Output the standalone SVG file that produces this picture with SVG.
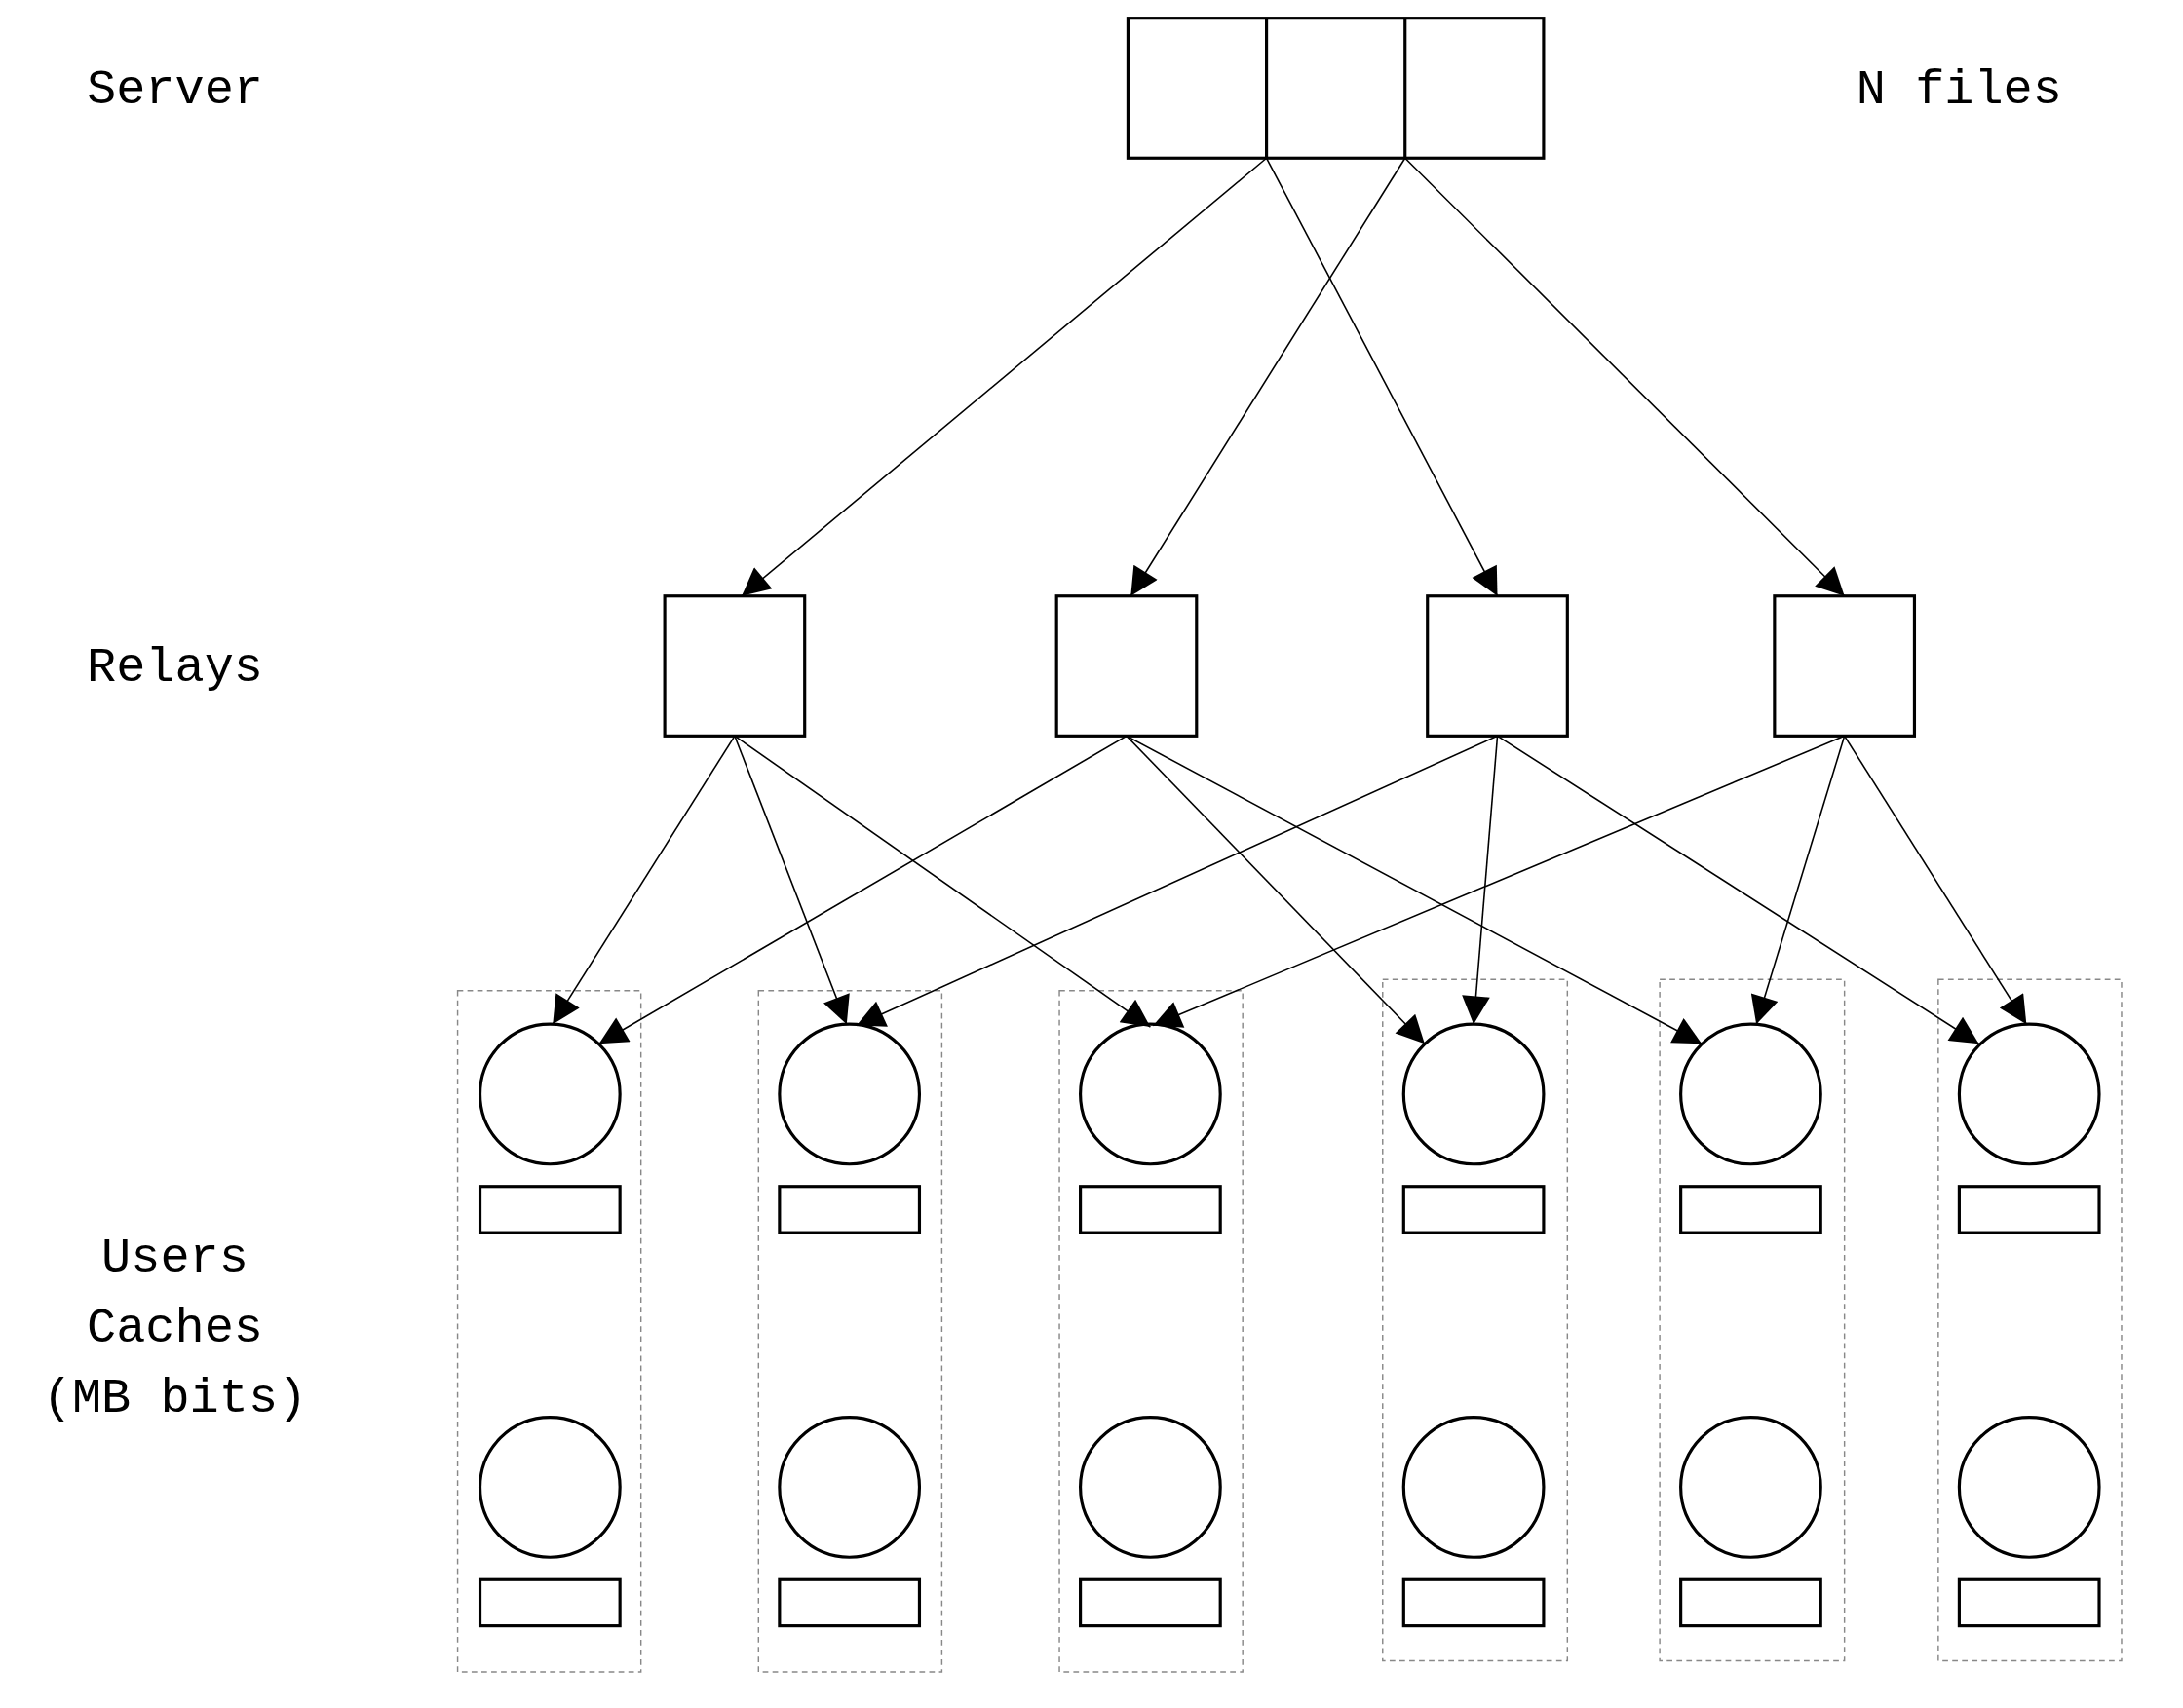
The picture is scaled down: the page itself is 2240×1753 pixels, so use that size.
<svg xmlns="http://www.w3.org/2000/svg" width="2240" height="1753" viewBox="0 0 2240 1753">
<style>
.s{fill:none;stroke:#000;stroke-width:2.2}
.d{fill:none;stroke:#888;stroke-width:1;stroke-dasharray:4 3}
.e{stroke:#000;stroke-width:1.1;fill:none}
text{font-family:"Liberation Mono",monospace;font-size:35px;text-anchor:middle}
</style>
<defs><marker id="a" viewBox="0 0 10 10" refX="10" refY="5" markerWidth="22" markerHeight="20" markerUnits="userSpaceOnUse" orient="auto"><path d="M0,0L10,5L0,10z"/></marker></defs>
<rect width="2240" height="1753" fill="#fff"/>
<g transform="scale(1.436)">
<g id="labels"><text x="125" y="74">Server</text><text x="1400" y="74">N files</text><text x="125" y="487">Relays</text><text x="125" y="909">Users</text><text x="125" y="959">Caches</text><text x="125" y="1009">(MB bits)</text></g>
<g id="server"><rect class="s" x="806" y="13" width="297" height="100"/><line class="s" x1="905" y1="13" x2="905" y2="113"/><line class="s" x1="1004" y1="13" x2="1004" y2="113"/></g>
<g id="relay1"><rect class="s" x="475" y="426" width="100" height="100"/></g>
<g id="relay2"><rect class="s" x="755" y="426" width="100" height="100"/></g>
<g id="relay3"><rect class="s" x="1020" y="426" width="100" height="100"/></g>
<g id="relay4"><rect class="s" x="1268" y="426" width="100" height="100"/></g>
<g id="user1"><rect class="d" x="327" y="708" width="131" height="487"/><circle class="s" cx="393" cy="782" r="50"/><rect class="s" x="343" y="848" width="100" height="33"/><circle class="s" cx="393" cy="1063" r="50"/><rect class="s" x="343" y="1129" width="100" height="33"/></g>
<g id="user2"><rect class="d" x="542" y="708" width="131" height="487"/><circle class="s" cx="607" cy="782" r="50"/><rect class="s" x="557" y="848" width="100" height="33"/><circle class="s" cx="607" cy="1063" r="50"/><rect class="s" x="557" y="1129" width="100" height="33"/></g>
<g id="user3"><rect class="d" x="757" y="708" width="131" height="487"/><circle class="s" cx="822" cy="782" r="50"/><rect class="s" x="772" y="848" width="100" height="33"/><circle class="s" cx="822" cy="1063" r="50"/><rect class="s" x="772" y="1129" width="100" height="33"/></g>
<g id="user4"><rect class="d" x="988" y="700" width="132" height="487"/><circle class="s" cx="1053" cy="782" r="50"/><rect class="s" x="1003" y="848" width="100" height="33"/><circle class="s" cx="1053" cy="1063" r="50"/><rect class="s" x="1003" y="1129" width="100" height="33"/></g>
<g id="user5"><rect class="d" x="1186" y="700" width="132" height="487"/><circle class="s" cx="1251" cy="782" r="50"/><rect class="s" x="1201" y="848" width="100" height="33"/><circle class="s" cx="1251" cy="1063" r="50"/><rect class="s" x="1201" y="1129" width="100" height="33"/></g>
<g id="user6"><rect class="d" x="1385" y="700" width="131" height="487"/><circle class="s" cx="1450" cy="782" r="50"/><rect class="s" x="1400" y="848" width="100" height="33"/><circle class="s" cx="1450" cy="1063" r="50"/><rect class="s" x="1400" y="1129" width="100" height="33"/></g>
<g id="connectors" marker-end="url(#a)">
<line class="e" x1="905" y1="113" x2="530" y2="426" marker-end="url(#a)"/>
<line class="e" x1="905" y1="113" x2="1070" y2="426" marker-end="url(#a)"/>
<line class="e" x1="1004" y1="113" x2="808" y2="426" marker-end="url(#a)"/>
<line class="e" x1="1004" y1="113" x2="1318" y2="426" marker-end="url(#a)"/>
<line class="e" x1="525" y1="526" x2="395" y2="732" marker-end="url(#a)"/>
<line class="e" x1="525" y1="526" x2="605" y2="732" marker-end="url(#a)"/>
<line class="e" x1="525" y1="526" x2="822" y2="734" marker-end="url(#a)"/>
<line class="e" x1="805" y1="526" x2="428" y2="746" marker-end="url(#a)"/>
<line class="e" x1="805" y1="526" x2="1018" y2="746" marker-end="url(#a)"/>
<line class="e" x1="805" y1="526" x2="1216" y2="746" marker-end="url(#a)"/>
<line class="e" x1="1070" y1="526" x2="612" y2="733" marker-end="url(#a)"/>
<line class="e" x1="1070" y1="526" x2="1053" y2="732" marker-end="url(#a)"/>
<line class="e" x1="1070" y1="526" x2="1414" y2="746" marker-end="url(#a)"/>
<line class="e" x1="1318" y1="526" x2="824" y2="733" marker-end="url(#a)"/>
<line class="e" x1="1318" y1="526" x2="1255" y2="732" marker-end="url(#a)"/>
<line class="e" x1="1318" y1="526" x2="1448" y2="732" marker-end="url(#a)"/>
</g>
</g>
</svg>
